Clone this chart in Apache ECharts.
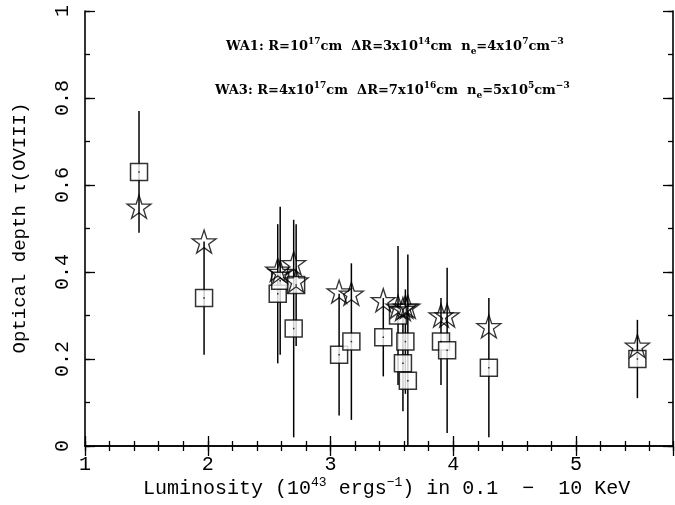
<!DOCTYPE html>
<html>
<head>
<meta charset="utf-8">
<script src="https://cdn.jsdelivr.net/npm/echarts@6/dist/echarts.min.js"></script>
<style>
  html, body { margin: 0; padding: 0; background: #fff; }
  #chart { width: 675px; height: 505px; }
</style>
</head>
<body>
<div id="chart"></div>
<script>
// luminosity (10^43 erg/s) of each source
var lum = [1.44, 1.97, 2.57, 2.59, 2.70, 2.72, 3.07, 3.17, 3.43, 3.55, 3.59, 3.61, 3.63, 3.90, 3.95, 4.29, 5.50];
// WA1 model (squares) with error bars
var tauBox = [0.63, 0.34, 0.35, 0.38, 0.27, 0.37, 0.21, 0.24, 0.25, 0.30, 0.19, 0.24, 0.15, 0.24, 0.22, 0.18, 0.20];
var tauErr = [0.14, 0.13, 0.16, 0.17, 0.25, 0.14, 0.14, 0.18, 0.09, 0.16, 0.11, 0.12, 0.29, 0.10, 0.19, 0.16, 0.09];
// WA3 model (stars)
var tauStar = [0.55, 0.47, 0.405, 0.40, 0.42, 0.38, 0.355, 0.35, 0.335, 0.32, 0.315, 0.32, 0.32, 0.30, 0.30, 0.275, 0.23];
var xTicks = [1, 2, 3, 4, 5];
var yTicks = [0, 0.2, 0.4, 0.6, 0.8, 1];

var chart = echarts.init(document.getElementById('chart'));
var FONT = 'Liberation Mono';
var SERIF = 'DejaVu Serif';
var starPath = 'path://M50,0 L61.23,34.55 L97.55,34.55 L68.17,55.9 L79.39,90.45 L50,69.1 L20.61,90.45 L31.83,55.9 L2.45,34.55 L38.77,34.55 Z';

var boxData = lum.map(function (x, i) { return [x, tauBox[i]]; });
var starData = lum.map(function (x, i) { return [x, tauStar[i]]; });
var errData = lum.map(function (x, i) { return [x, tauBox[i] - tauErr[i], tauBox[i] + tauErr[i]]; });

function renderErr(params, api) {
    var p1 = api.coord([api.value(0), api.value(1)]);
    var p2 = api.coord([api.value(0), api.value(2)]);
    return {
        type: 'line',
        shape: { x1: p1[0], y1: p1[1], x2: p2[0], y2: p2[1] },
        style: { stroke: '#000', lineWidth: 1.5 }
    };
}

var line = { show: true, lineStyle: { color: '#000', width: 1.6 } };
var noLabel = { show: false };

function xAx(pos, interval, len, labels, lineOn) {
    return {
        type: 'value', position: pos, min: 1, max: 5.79, interval: interval,
        axisLine: lineOn ? line : { show: false },
        axisTick: { show: true, inside: true, length: len, lineStyle: { color: '#000', width: 1.3 } },
        axisLabel: labels ? {
            show: true, color: '#000', fontFamily: FONT, fontSize: 20, margin: 9,
            showMaxLabel: false,
            formatter: function (v) { return xTicks.indexOf(v) >= 0 ? String(v) : ''; }
        } : noLabel,
        splitLine: { show: false }
    };
}
function yAx(pos, interval, len, labels, lineOn) {
    return {
        type: 'value', position: pos, min: 0, max: 1, interval: interval,
        axisLine: lineOn ? line : { show: false },
        axisTick: { show: true, inside: true, length: len, lineStyle: { color: '#000', width: 1.3 } },
        axisLabel: labels ? {
            show: true, color: '#000', fontFamily: FONT, fontSize: 20, margin: 12, rotate: 90,
            formatter: function (v) {
                var r = Math.round(v * 10) / 10;
                return yTicks.indexOf(r) >= 0 ? String(r) : '';
            }
        } : noLabel,
        splitLine: { show: false }
    };
}

var sup = { fontFamily: SERIF, fontWeight: 'bold', fontSize: 9, verticalAlign: 'top', lineHeight: 10, color: '#000' };
var sub = { fontFamily: SERIF, fontWeight: 'bold', fontSize: 9, verticalAlign: 'bottom', lineHeight: 10, color: '#000' };
var base = { fontFamily: SERIF, fontWeight: 'bold', fontSize: 13, lineHeight: 19, color: '#000' };

var option = {
    backgroundColor: '#fff',
    animation: false,
    grid: { left: 85, right: 2, top: 11, bottom: 59 },
    xAxis: [
        xAx('bottom', 1, 10, true, true),
        xAx('bottom', 0.2, 5, false, false),
        xAx('top', 1, 10, false, true),
        xAx('top', 0.2, 5, false, false)
    ],
    yAxis: [
        yAx('left', 0.2, 10, true, true),
        yAx('left', 0.1, 5, false, false),
        yAx('right', 0.2, 10, false, true),
        yAx('right', 0.1, 5, false, false)
    ],
    graphic: [
        {
            type: 'text', left: 226, top: 37, z: 10,
            style: {
                text: '{b|WA1: R=10}{s|17}{b|cm  ΔR=3x10}{s|14}{b|cm  n}{u|e}{b|=4x10}{s|7}{b|cm}{s|−3}',
                rich: { b: base, s: sup, u: sub }
            }
        },
        {
            type: 'text', left: 215, top: 81, z: 10,
            style: {
                text: '{b|WA3: R=4x10}{s|17}{b|cm  ΔR=7x10}{s|16}{b|cm  n}{u|e}{b|=5x10}{s|5}{b|cm}{s|−3}',
                rich: { b: base, s: sup, u: sub }
            }
        },
        {
            type: 'text', left: 143, top: 476, z: 10,
            style: {
                text: '{b|Luminosity (10}{s|43}{b| ergs}{s|−1}{b|) in 0.1  −  10 KeV}',
                rich: {
                    b: { fontFamily: FONT, fontSize: 20, lineHeight: 26, color: '#000' },
                    s: { fontFamily: FONT, fontSize: 13, verticalAlign: 'top', lineHeight: 13, color: '#000' }
                }
            }
        },
        {
            type: 'text', x: 20, y: 228, rotation: Math.PI / 2, z: 10,
            style: {
                text: 'Optical depth τ(OVIII)', fontFamily: FONT, fontSize: 19, fill: '#000',
                align: 'center', verticalAlign: 'middle'
            }
        }
    ],
    series: [
        {
            type: 'custom', name: 'err', xAxisIndex: 0, yAxisIndex: 0, clip: true,
            renderItem: renderErr, data: errData, z: 2
        },
        {
            type: 'scatter', name: 'WA1', data: boxData, symbol: 'rect', symbolSize: 17, z: 3,
            itemStyle: { color: '#fff', borderColor: '#000', borderWidth: 1.5 }
        },
        {
            type: 'scatter', name: 'dot', data: boxData, symbol: 'rect', symbolSize: 1.5, z: 4,
            itemStyle: { color: '#000' }
        },
        {
            type: 'scatter', name: 'WA3', data: starData, symbol: starPath, symbolSize: [24, 23], z: 5,
            itemStyle: { color: 'rgba(0,0,0,0)', borderColor: '#000', borderWidth: 1.3 }
        }
    ]
};
chart.setOption(option);
</script>
</body>
</html>
